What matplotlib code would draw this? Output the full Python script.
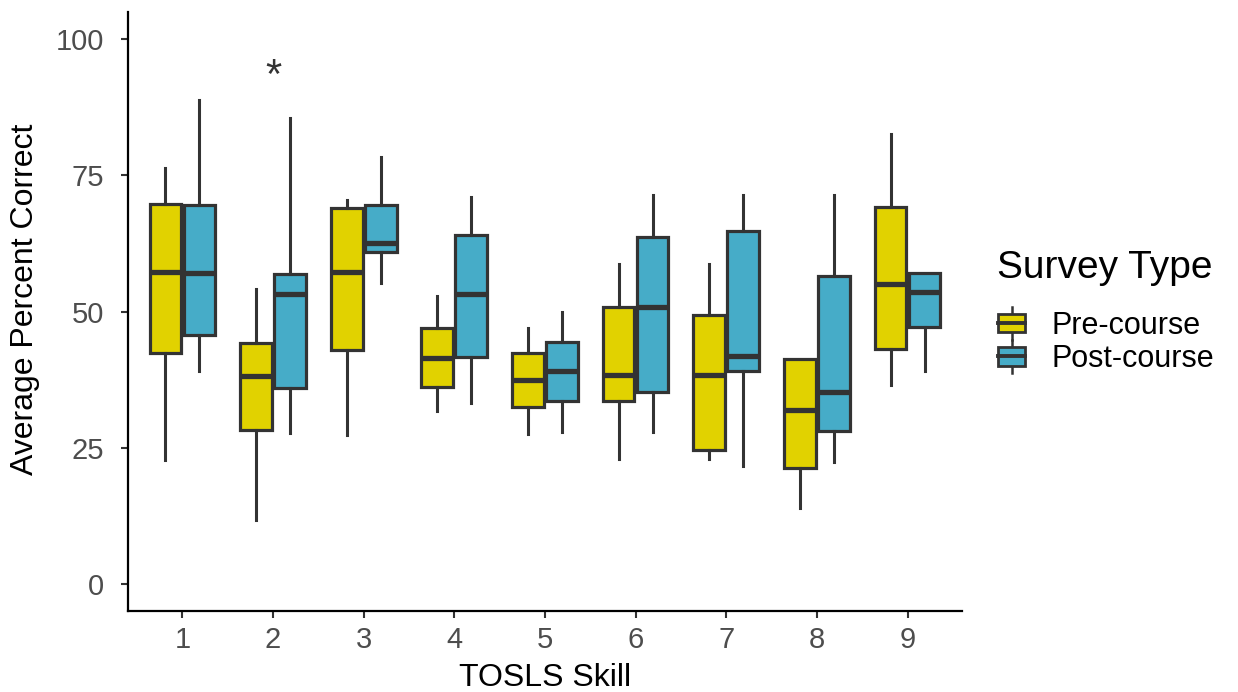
import matplotlib
matplotlib.use("Agg")
import matplotlib.pyplot as plt
from matplotlib.patches import Rectangle
from matplotlib.lines import Line2D
from matplotlib.legend_handler import HandlerBase

plt.rcParams['font.family'] = ['Liberation Sans', 'DejaVu Sans']

skills = [1, 2, 3, 4, 5, 6, 7, 8, 9]
tick_labels = ["1", "2", "3", "4", "5", "6", "7", "8", "9"]
series = ["Pre-course", "Post-course"]
colors = ["#E1D200", "#46ACC8"]

# five-number summaries: whisker low, Q1, median, Q3, whisker high
pre_low = [22.7, 11.8, 27.3, 31.7, 27.5, 22.9, 22.9, 13.9, 36.5]
pre_q1 = [42.3, 28.3, 43.0, 36.2, 32.5, 33.5, 24.5, 21.2, 43.2]
pre_med = [57.3, 38.1, 57.2, 41.5, 37.4, 38.3, 38.4, 31.9, 55.1]
pre_q3 = [69.8, 44.2, 69.0, 46.9, 42.3, 50.8, 49.3, 41.2, 69.2]
pre_high = [76.4, 54.2, 70.4, 52.8, 47.0, 58.8, 58.8, 41.2, 82.6]

post_low = [39.0, 27.6, 55.3, 33.2, 27.8, 27.8, 21.6, 22.3, 39.1]
post_q1 = [45.6, 35.9, 60.9, 41.6, 33.5, 35.2, 39.1, 28.0, 47.2]
post_med = [57.0, 53.3, 62.6, 53.3, 39.1, 50.9, 41.8, 35.2, 53.5]
post_q3 = [69.5, 56.9, 69.5, 64.1, 44.4, 63.7, 64.8, 56.6, 57.1]
post_high = [88.8, 85.5, 78.3, 71.1, 49.9, 71.4, 71.4, 71.4, 57.1]

sig_skill = 2
sig_y = 93

edge = "#333333"

fig = plt.figure(figsize=(12.38, 6.92), dpi=100)
ax = fig.add_axes([0.1034, 0.117, 0.777 - 0.1034, 0.9827 - 0.117])

def stats_for(low, q1, med, q3, high):
    return [dict(whislo=a, q1=b, med=c, q3=d, whishi=e, fliers=[])
            for a, b, c, d, e in zip(low, q1, med, q3, high)]

groups = [stats_for(pre_low, pre_q1, pre_med, pre_q3, pre_high),
          stats_for(post_low, post_q1, post_med, post_q3, post_high)]
offsets = [-0.1875, 0.1875]
for st, off, col in zip(groups, offsets, colors):
    pos = [s + off for s in skills]
    ax.bxp(st, positions=pos, widths=0.35, patch_artist=True,
           showcaps=False, showfliers=False, manage_ticks=False,
           boxprops=dict(facecolor=col, edgecolor=edge, linewidth=2.3),
           whiskerprops=dict(color=edge, linewidth=2.2),
           medianprops=dict(color=edge, linewidth=3.8, solid_capstyle='butt'))

ax.text(sig_skill, sig_y, "*", ha='center', va='center', fontsize=30, color=edge)

ax.set_xlim(0.4, 9.6)
ax.set_ylim(-5, 105)
ax.set_xticks(skills)
ax.set_xticklabels(tick_labels)
ax.set_yticks([0, 25, 50, 75, 100])
for s in ['top', 'right']:
    ax.spines[s].set_visible(False)
for s in ['left', 'bottom']:
    ax.spines[s].set_linewidth(1.6)
    ax.spines[s].set_color('black')
ax.tick_params(axis='both', colors=edge, width=1.5, length=5, labelsize=21,
               labelcolor="#4D4D4D")
ax.tick_params(axis='y', pad=12)
ax.tick_params(axis='x', pad=6)
ax.set_xlabel("TOSLS Skill", fontsize=23, color='black', labelpad=6)
ax.set_ylabel("Average Percent Correct", fontsize=23, color='black')
ax.yaxis.set_label_coords(-0.106, 0.521)


class BoxHandler(HandlerBase):
    def __init__(self, color):
        super().__init__()
        self.color = color

    def create_artists(self, legend, orig_handle, xdescent, ydescent, width,
                       height, fontsize, trans):
        cx = -xdescent + width / 2
        x0 = -xdescent + width * 0.05
        w = width * 0.9
        y0 = -ydescent
        whisk = Line2D([cx, cx], [y0 - height * 0.3, y0 + height * 1.3],
                       color=edge, lw=1.8, transform=trans)
        rect = Rectangle((x0, y0 + height * 0.05), w, height * 0.9,
                         facecolor=self.color, edgecolor=edge, lw=2.0,
                         transform=trans)
        med = Line2D([x0, x0 + w], [y0 + height / 2, y0 + height / 2],
                     color=edge, lw=2.8, transform=trans)
        return [whisk, rect, med]


fig.text(997 / 1238, 1 - 268 / 692, "Survey Type", ha='left', va='center',
         fontsize=28, color='black')

handles = [Rectangle((0, 0), 1, 1, facecolor=c) for c in colors]
leg = fig.legend(handles, series, loc='upper left',
                 bbox_to_anchor=(997 / 1238, 1 - 311 / 692), frameon=False,
                 fontsize=22,
                 handler_map={handles[0]: BoxHandler(colors[0]),
                              handles[1]: BoxHandler(colors[1])},
                 handlelength=0.95, handleheight=0.65, handletextpad=0.85,
                 labelspacing=0.1, borderaxespad=0, borderpad=0)

fig.savefig("out.png", dpi=100)
